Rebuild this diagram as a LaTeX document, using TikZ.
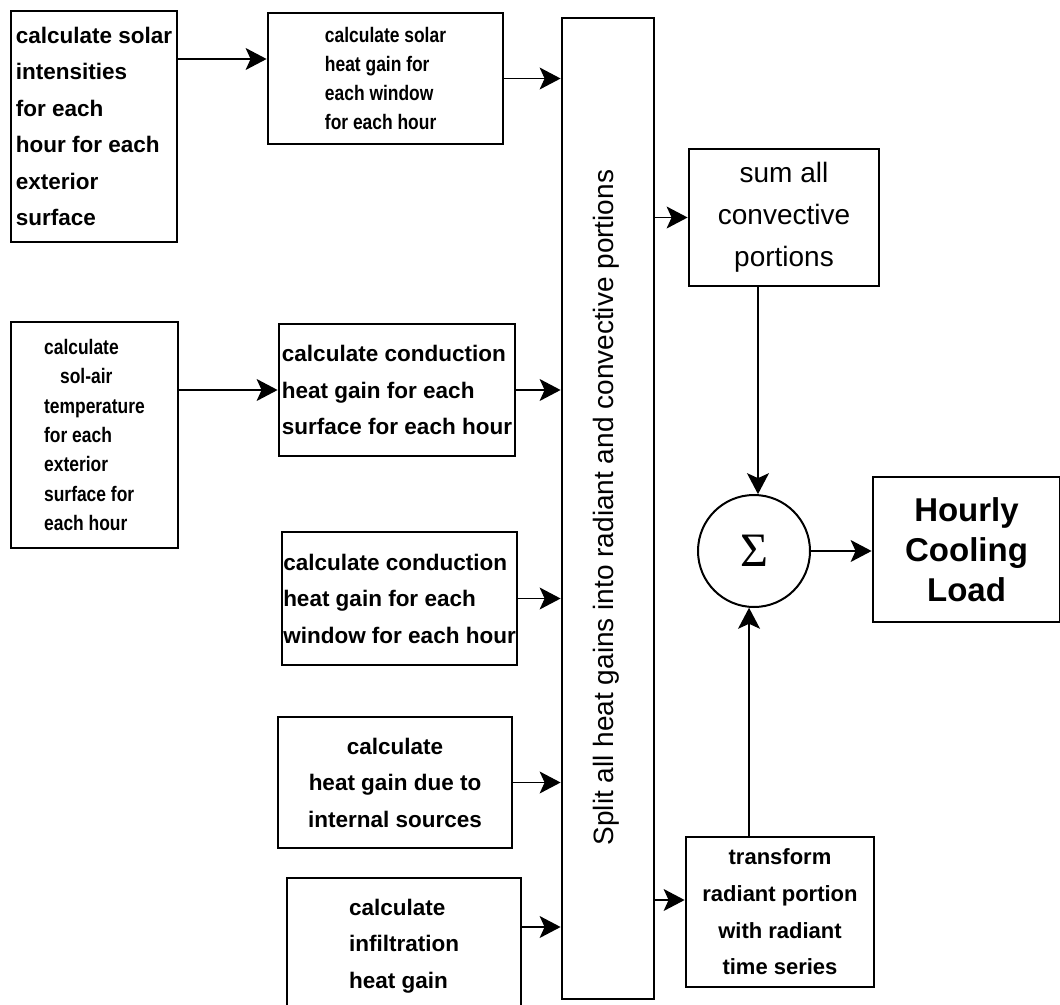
\documentclass[tikz,border=0pt]{standalone}
\usepackage{fontspec}
\setmainfont{Liberation Sans}
\newfontfamily\narrowfont{Liberation Sans}[FakeStretch=0.83]
\newfontfamily\sigmafont{Liberation Serif}
\usetikzlibrary{arrows.meta,positioning}

\begin{document}
\begin{tikzpicture}[x=1pt,y=-1pt,
 box/.style={draw,line width=2.8pt,inner sep=0pt},
 flow/.style={-{Stealth[length=21pt,width=22pt,inset=5pt]},line width=1.4pt},
 bold/.style={font=\fontsize{22.5}{36.5}\selectfont\bfseries},
 narrow/.style={font=\narrowfont\fontsize{21}{29.3}\selectfont\bfseries}]
\clip (0,0) rectangle (1060,1004);
% left column
\node[box,bold,minimum width=166pt,minimum height=231pt,align=left] (solint) at (94,126.5)
 {calculate solar\\intensities\\for each\\hour for each\\exterior\\surface};
\node[box,narrow,minimum width=167pt,minimum height=226pt,align=left] (solair) at (94.5,435)
 {calculate\\\hspace*{16pt}sol-air\\temperature\\for each\\exterior\\surface for\\each hour};
% heat gain boxes
\node[box,narrow,minimum width=235pt,minimum height=131pt,align=left] (solwin) at (385.5,78.5)
 {calculate solar\\heat gain for\\each window\\for each hour};
\node[box,bold,minimum width=236pt,minimum height=132pt,align=left] (condsurf) at (397,390)
 {calculate conduction\\heat gain for each\\surface for each hour};
\node[box,bold,minimum width=235pt,minimum height=133pt,align=left] (condwin) at (399.5,598.5)
 {calculate conduction\\heat gain for each\\window for each hour};
\node[box,bold,minimum width=234pt,minimum height=131pt,align=center] (internal) at (395,782.5)
 {calculate\\heat gain due to\\internal sources};
\node[box,bold,minimum width=234pt,minimum height=136pt,align=left] (infil) at (404,946)
 {calculate\\infiltration\\heat gain};
% split
\node[box,minimum width=92pt,minimum height=981pt] (split) at (608,508.5) {};
\node[rotate=90,font=\fontsize{28}{34}\selectfont] (splittxt) at (606,507.5)
 {Split all heat gains into radiant and convective portions};
% right part
\node[box,minimum width=190pt,minimum height=137pt,align=center,font=\fontsize{28}{42}\selectfont] (conv) at (784,217.5)
 {sum all\\convective\\portions};
\node[circle,draw,line width=2pt,minimum size=112pt,inner sep=0pt,font=\sigmafont\fontsize{48}{48}\selectfont] (sum) at (754,551) {Σ};
\node[box,minimum width=187pt,minimum height=145pt,align=center,font=\fontsize{33}{40}\selectfont\bfseries] (load) at (966.5,549.5)
 {Hourly\\Cooling\\Load};
\node[box,minimum width=188pt,minimum height=150pt,align=center,font=\fontsize{22}{36.7}\selectfont\bfseries] (trans) at (780,912)
 {transform\\radiant portion\\with radiant\\time series};
% connectors
\draw[flow] ([yshift=67.5pt]solint.east) -- ([yshift=67.5pt]solint.east -| solwin.west);
\draw[flow] ([yshift=45pt]solair.east) -- ([yshift=45pt]solair.east -| condsurf.west);
\foreach \n in {solwin,condsurf,condwin,internal}
 \draw[flow] (\n.east) -- (\n.east -| split.west);
\draw[flow] ([yshift=19pt]infil.east) -- ([yshift=19pt]infil.east -| split.west);
\draw[flow] (conv.west -| split.east) -- (conv.west);
\draw[flow] ([yshift=12pt]trans.west -| split.east) -- ([yshift=12pt]trans.west);
\draw[flow] (conv.south -| sum.86) -- (sum.86);
\draw[flow] (trans.north -| sum.-95) -- (sum.-95);
\draw[flow] (sum.east) -- (sum.east -| load.west);
\end{tikzpicture}
\end{document}
